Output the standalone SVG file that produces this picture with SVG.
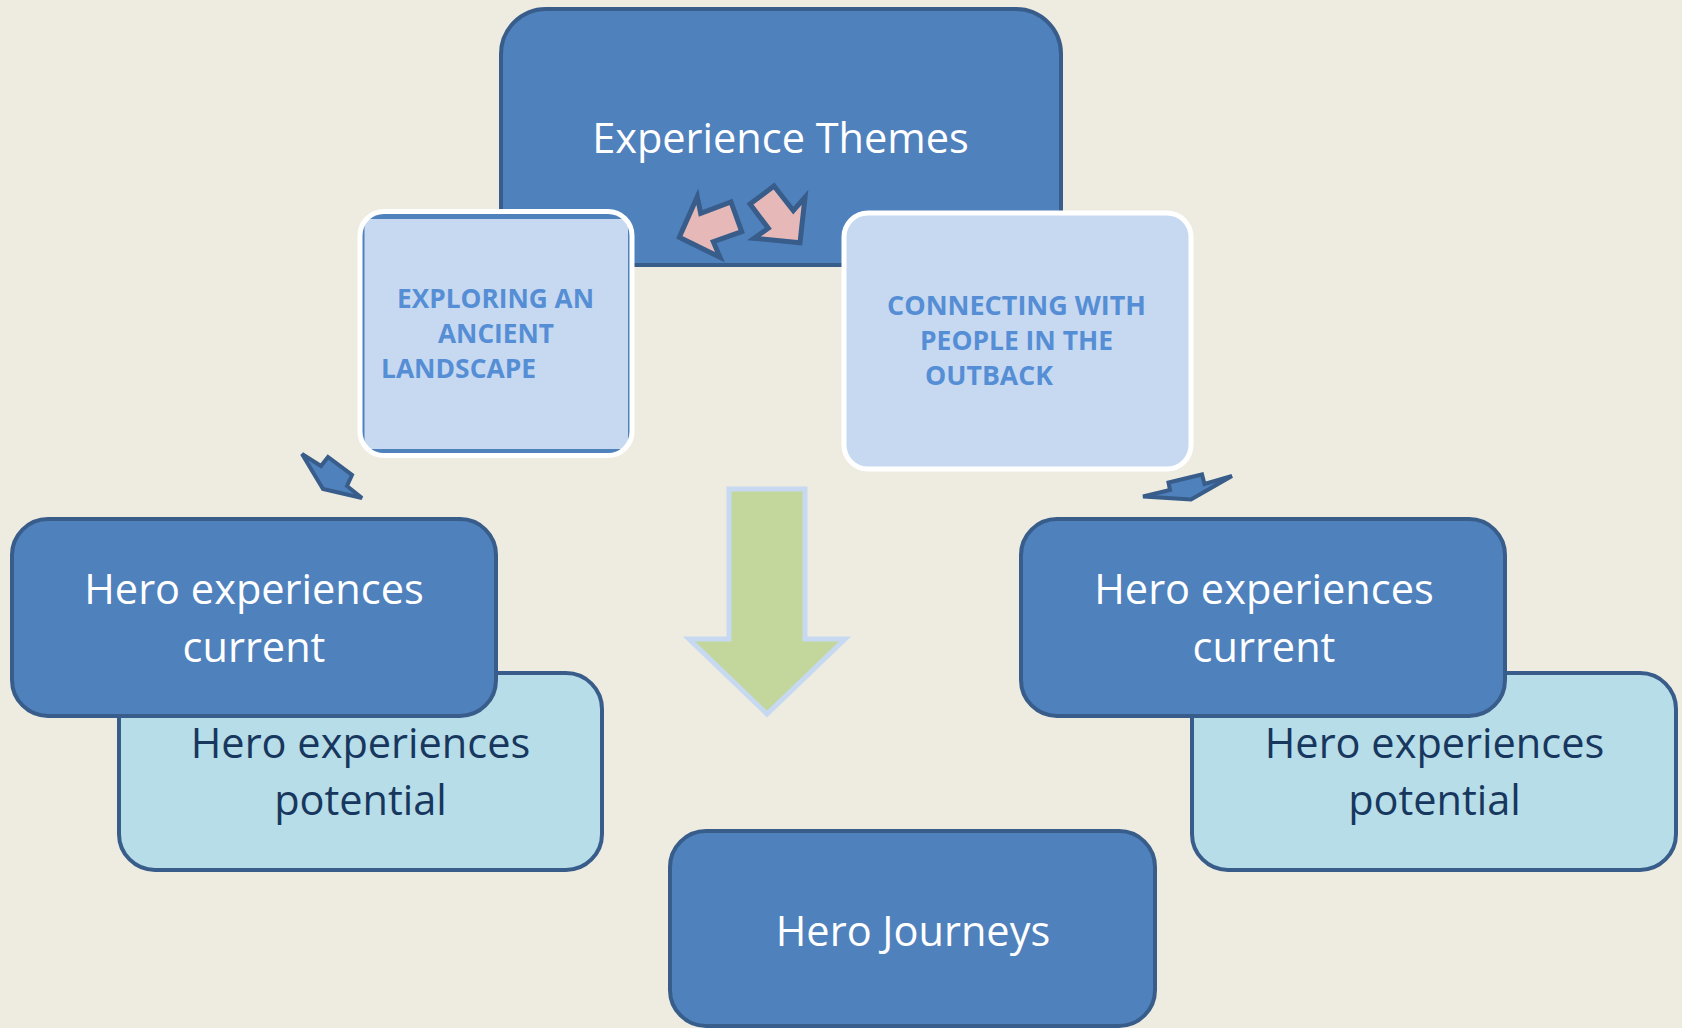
<svg xmlns="http://www.w3.org/2000/svg" width="1682" height="1028" viewBox="0 0 1682 1028">
  <style>
    .dark { fill: #4F81BD; stroke: #385D8A; stroke-width: 4; }
    .pale { fill: #B7DDE8; stroke: #385D8A; stroke-width: 4; }
    .big { font-family: "Open Sans", "Liberation Sans", sans-serif; font-size: 41.5px; text-anchor: middle; }
    .white { fill: #FFFFFF; }
    .navy { fill: #17375E; }
    .cap { font-family: "Open Sans", "Liberation Sans", sans-serif; font-weight: bold; font-size: 27.5px; fill: #558ED5; }
    .pink { fill: #E6B9B8; stroke: #385D8A; stroke-width: 5; stroke-linejoin: miter; }
    .blue-arrow { fill: #4F81BD; stroke: #385D8A; stroke-width: 4; stroke-linejoin: miter; stroke-miterlimit: 4; }
    .green-arrow { fill: #C3D69B; stroke: #C6D9F1; stroke-width: 5; }
  </style>

  <!-- slide background -->
  <rect x="0" y="0" width="1682" height="1028" fill="#EEECE1"/>

  <!-- top theme box -->
  <g id="experience-themes">
    <rect class="dark" x="501" y="9" width="560" height="256" rx="45" ry="45"/>
    <text class="big white" x="780.5" y="153">Experience Themes</text>
  </g>

  <!-- exchange arrows inside the theme box -->
  <g id="theme-arrows">
    <polygon class="pink" points="697.3,196.7 700.7,213.3 731,202 741.7,231.7 713.3,241.7 720,257.3 679.3,237.3"/>
    <polygon class="pink" points="774,186 750,204 768.3,228.3 754,238.3 800,242.7 805,197.3 793.3,210.7"/>
  </g>

  <!-- theme: ancient landscape -->
  <g id="theme-landscape">
    <rect x="360" y="211.5" width="272" height="244" rx="24" ry="24" fill="#4F81BD"/>
    <rect x="364.5" y="219" width="263.5" height="230" fill="#C6D9F1"/>
    <rect x="360" y="211.5" width="272" height="244" rx="24" ry="24" fill="none" stroke="#FFFFFF" stroke-width="5"/>
    <text class="cap" x="397" y="308" textLength="197" lengthAdjust="spacingAndGlyphs">EXPLORING AN</text>
    <text class="cap" x="438" y="343" textLength="116" lengthAdjust="spacingAndGlyphs">ANCIENT</text>
    <text class="cap" x="381" y="378" textLength="155" lengthAdjust="spacingAndGlyphs">LANDSCAPE</text>
  </g>

  <!-- theme: people in the outback -->
  <g id="theme-outback">
    <rect x="844" y="213" width="347" height="256" rx="24" ry="24" fill="#C6D9F1" stroke="#FFFFFF" stroke-width="5"/>
    <text class="cap" x="887" y="315" textLength="259" lengthAdjust="spacingAndGlyphs">CONNECTING WITH</text>
    <text class="cap" x="920" y="350" textLength="193" lengthAdjust="spacingAndGlyphs">PEOPLE IN THE</text>
    <text class="cap" x="925" y="385" textLength="128" lengthAdjust="spacingAndGlyphs">OUTBACK</text>
  </g>

  <!-- connectors -->
  <g id="connectors">
    <polygon class="blue-arrow" points="302,454 321,466 328,457 352,475 347,486 362,498 323,489"/>
    <polygon class="blue-arrow" points="1143,496.5 1170,490 1168.5,482.5 1202,474.5 1204.5,484 1232,476 1191,499.5"/>
    <polygon class="green-arrow" points="729,489 805,489 805,639 845,639 767,714 689,639 729,639"/>
  </g>

  <!-- left pair -->
  <g id="left-potential">
    <rect class="pale" x="119" y="673" width="483" height="197" rx="36" ry="36"/>
    <text class="big navy" x="360.5" y="758">Hero experiences</text>
    <text class="big navy" x="360.5" y="815">potential</text>
  </g>
  <g id="left-current">
    <rect class="dark" x="12" y="519" width="484" height="197" rx="36" ry="36"/>
    <text class="big white" x="254" y="604">Hero experiences</text>
    <text class="big white" x="254" y="662">current</text>
  </g>

  <!-- right pair -->
  <g id="right-potential">
    <rect class="pale" x="1192" y="673" width="484" height="197" rx="36" ry="36"/>
    <text class="big navy" x="1434.5" y="758">Hero experiences</text>
    <text class="big navy" x="1434.5" y="815">potential</text>
  </g>
  <g id="right-current">
    <rect class="dark" x="1021" y="519" width="484" height="197" rx="36" ry="36"/>
    <text class="big white" x="1264" y="604">Hero experiences</text>
    <text class="big white" x="1264" y="662">current</text>
  </g>

  <!-- outcome box -->
  <g id="hero-journeys">
    <rect class="dark" x="670" y="831" width="485" height="195" rx="36" ry="36"/>
    <text class="big white" x="913" y="946">Hero Journeys</text>
  </g>
</svg>
